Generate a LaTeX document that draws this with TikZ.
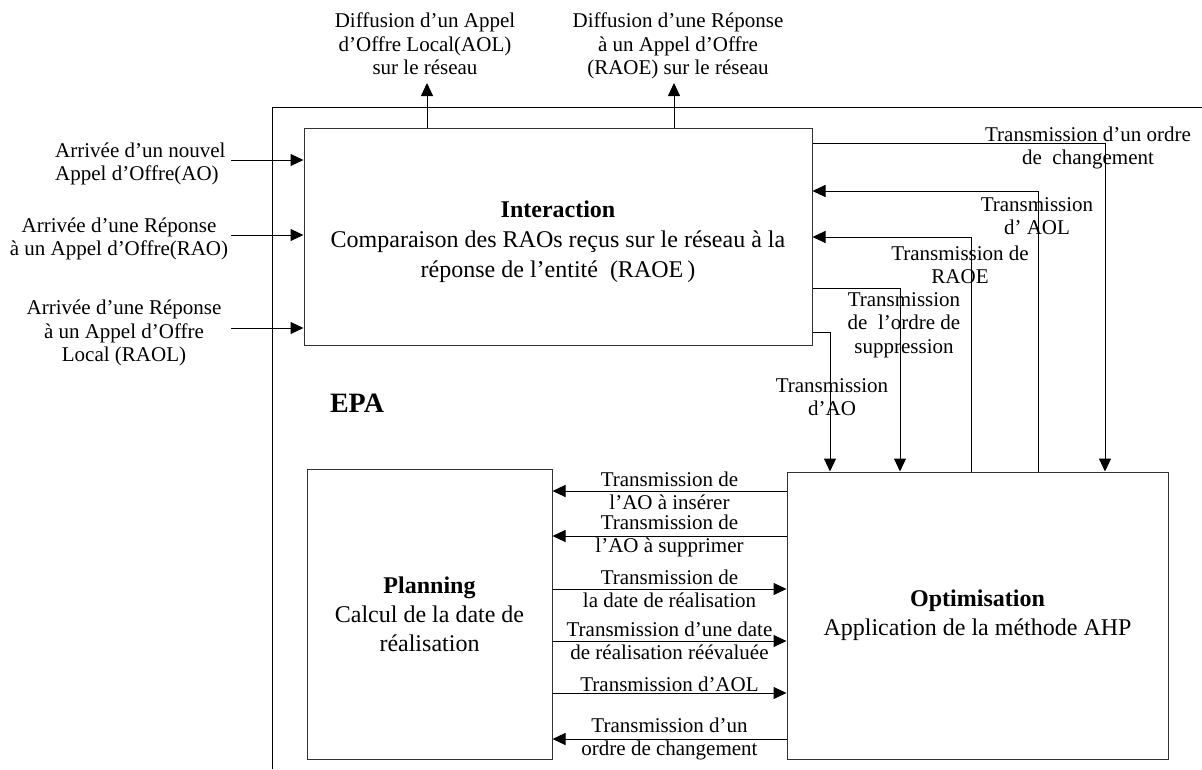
\documentclass[tikz,border=0pt]{standalone}
\usepackage{fontspec}
\setmainfont{Liberation Serif}
\usetikzlibrary{arrows.meta,calc}
\begin{document}
\begin{tikzpicture}[x=1pt,y=-1pt,
  box/.style={draw=black!80, line width=1pt, inner sep=0pt, align=center, font=\fontsize{24}{29}\selectfont},
  lbl/.style={align=center, inner sep=0pt, font=\fontsize{21}{23.5}\selectfont},
  arr/.style={line width=1pt, -{Triangle[length=13pt,width=12pt]}},
  con/.style={line width=1pt}]
\useasboundingbox (0,0) rectangle (1202,769);

% outer EPA frame
\draw[con] (272,769) -- (272,107) -- (1202,107);
\node[font=\bfseries\fontsize{28}{30}\selectfont, inner sep=0pt] (epa) at (357,403) {EPA};

% boxes
\node[box, minimum width=508pt, minimum height=217pt, font=\fontsize{24}{30}\selectfont] (inter) at (558,236.5)
  {\rule{0pt}{28pt}\textbf{Interaction}\\Comparaison des RAOs reçus sur le réseau à la\\réponse de l’entité~~(RAOE\,)};
\node[box, minimum width=245pt, minimum height=290pt] (plan) at (429.5,614)
  {\textbf{Planning}\\Calcul de la date de\\réalisation};
\node[box, minimum width=381pt, minimum height=287pt] (opt) at (977.5,615.5)
  {\textbf{Optimisation}\\Application de la méthode AHP};

% top outputs
\coordinate (outA) at (427,83);
\coordinate (outB) at (674,83);
\draw[arr] (inter.north -| outA) -- (outA);
\draw[arr] (inter.north -| outB) -- (outB);
\node[lbl] (tA) at (425,44) {Diffusion d’un Appel\\d’Offre Local(AOL)\\sur le réseau};
\node[lbl] (tB) at (678,46) {Diffusion d’une Réponse\\à un Appel d’Offre\\(RAOE) sur le réseau};

% left inputs
\coordinate (inA) at (231,160);
\coordinate (inB) at (231,235);
\coordinate (inC) at (231,328);
\draw[arr] (inA) -- (inter.west |- inA);
\draw[arr] (inB) -- (inter.west |- inB);
\draw[arr] (inC) -- (inter.west |- inC);
\node[lbl, anchor=west, align=left] (lA) at (55,164) {Arrivée d’un nouvel\\Appel d’Offre(AO)};
\node[lbl] (lB) at (119,239) {Arrivée d’une Réponse\\à un Appel d’Offre(RAO)};
\node[lbl] (lC) at (124,333) {Arrivée d’une Réponse\\à un Appel d’Offre\\Local (RAOL)};

% right connectors between Interaction and Optimisation
\draw[arr] (inter.east |- 0,143) -| (opt.north -| 1105,0);
\draw[arr] (opt.north -| 1038,0) |- (inter.east |- 0,191);
\draw[arr] (opt.north -| 971,0) |- (inter.east |- 0,237);
\draw[arr] (inter.east |- 0,288) -| (opt.north -| 900,0);
\draw[arr] (inter.east |- 0,332) -| (opt.north -| 830,0);
\node[lbl] (rA) at (1088,148) {Transmission d’un ordre\\de~~changement};
\node[lbl] (rB) at (1037,216) {Transmission\\d’~AOL};
\node[lbl] (rC) at (960,265) {Transmission de\\RAOE};
\node[lbl] (rD) at (904,325) {Transmission\\de~~l’ordre de\\suppression};
\node[lbl] (rE) at (832,397) {Transmission\\d’AO};

% connectors between Planning and Optimisation
\draw[arr] (opt.west |- 0,491) -- (plan.east |- 0,491) node[lbl, midway] (b1) {Transmission de\\l’AO à insérer};
\draw[arr] (opt.west |- 0,536) -- (plan.east |- 0,536) node[lbl, midway] (b2) {Transmission de\\l’AO à supprimer};
\draw[arr] (plan.east |- 0,589) -- (opt.west |- 0,589) node[lbl, midway] (b3) {Transmission de\\la date de réalisation};
\draw[arr] (plan.east |- 0,641) -- (opt.west |- 0,641) node[lbl, midway] (b4) {Transmission d’une date\\de réalisation réévaluée};
\draw[arr] (plan.east |- 0,693) -- (opt.west |- 0,693) node[lbl, midway, anchor=south, yshift=1pt] (b5) {Transmission d’AOL};
\draw[arr] (opt.west |- 0,739) -- (plan.east |- 0,739) node[lbl, midway] (b6) {Transmission d’un\\ordre de changement};
\end{tikzpicture}
\end{document}
